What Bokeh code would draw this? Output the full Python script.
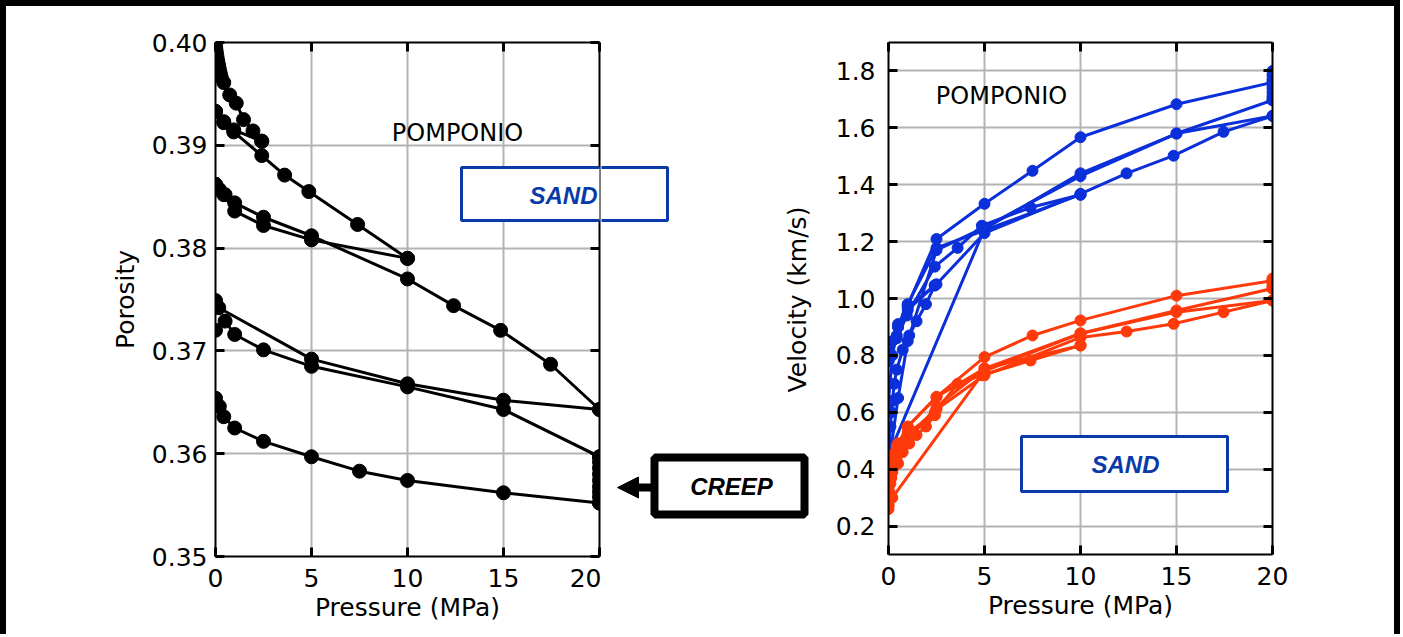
from bokeh.plotting import figure
from bokeh.layouts import row
from bokeh.models import (Range1d, LinearAxis, FixedTicker, NumeralTickFormatter,
                          BoxAnnotation, Label, Arrow, NormalHead,
                          CustomJSTickFormatter, CustomLabelingPolicy)
from bokeh.embed import file_html
from bokeh.resources import INLINE

# ---------------- data : porosity (left panel) ----------------
por_load1_p = [0, 0.02, 0.05, 0.08, 0.12, 0.16, 0.2, 0.25, 0.3, 0.43, 0.74, 1.08, 1.46, 1.95, 2.41]
por_load1 = [0.3998, 0.3994, 0.3990, 0.3986, 0.3982, 0.3978, 0.3974, 0.3970, 0.3966, 0.3961,
             0.3949, 0.3941, 0.3925, 0.3914, 0.3904]
por_unload1_p = [2.41, 0.95, 0.43, 0]
por_unload1 = [0.3904, 0.3915, 0.3923, 0.3933]
por_reload1_p = [0, 0.43, 0.95, 2.41, 3.6, 4.86, 7.4, 10]
por_reload1 = [0.3933, 0.3922, 0.3913, 0.3890, 0.3871, 0.3855, 0.3823, 0.3790]
por_unload2_p = [10, 5, 2.5, 1, 0.43, 0]
por_unload2 = [0.3790, 0.3808, 0.3822, 0.3836, 0.3852, 0.3862]
por_reload2_p = [0, 0.2, 0.5, 1, 2.5, 5, 10, 12.4, 14.85, 17.45, 20]
por_reload2 = [0.3862, 0.3857, 0.3852, 0.3844, 0.3830, 0.3812, 0.3770, 0.3744, 0.3720, 0.3687, 0.3643]
por_unload3_p = [20, 15, 10, 5, 0.17, 0]
por_unload3 = [0.3643, 0.3652, 0.3668, 0.3692, 0.3742, 0.3749]
por_reload3_p = [0, 0.5, 1, 2.5, 5, 10, 15, 20]
por_reload3 = [0.3720, 0.3729, 0.3716, 0.3701, 0.3685, 0.3665, 0.3643, 0.3597]
por_creep_p = [20, 20, 20, 20, 20, 20, 20, 20, 20]
por_creep = [0.3597, 0.3592, 0.3586, 0.3580, 0.3574, 0.3568, 0.3563, 0.3558, 0.3552]
por_unload4_p = [20, 15, 10, 7.5, 5, 2.5, 1, 0.43, 0.2, 0]
por_unload4 = [0.3552, 0.3562, 0.3574, 0.3583, 0.3597, 0.3612, 0.3625, 0.3636, 0.3646, 0.3654]

# ---------------- data : velocities (right panel) ----------------
vp_load1_p = [0, 0.02, 0.05, 0.1, 0.15, 0.2, 0.3, 0.43, 0.74, 1.08, 1.46, 1.95, 2.41]
vp_load1 = [0.34, 0.42, 0.48, 0.55, 0.60, 0.64, 0.70, 0.75, 0.82, 0.87, 0.92, 0.98, 1.046]
vp_unload1_p = [2.41, 1.0, 0.43, 0]
vp_unload1 = [1.046, 0.96, 0.87, 0.78]
vp_reload1_p = [0, 0.43, 0.95, 2.41, 3.6, 4.86, 7.4, 10]
vp_reload1 = [0.78, 0.86, 0.94, 1.112, 1.178, 1.256, 1.32, 1.365]
vp_unload2_p = [10, 5, 2.5, 1, 0.5, 0]
vp_unload2 = [1.365, 1.24, 1.178, 0.98, 0.90, 0.80]
vp_reload2_p = [0, 0.2, 0.5, 1, 2.5, 5, 10, 12.4, 14.85, 17.45, 20]
vp_reload2 = [0.80, 0.85, 0.91, 0.97, 1.05, 1.23, 1.368, 1.44, 1.502, 1.586, 1.642]
vp_unload3_p = [20, 15, 10, 5, 0.2, 0]
vp_unload3 = [1.642, 1.58, 1.44, 1.245, 0.48, 0.44]
vp_reload3_p = [0, 0.5, 1, 2.5, 5, 10, 15, 20]
vp_reload3 = [0.41, 0.65, 0.85, 1.17, 1.25, 1.43, 1.58, 1.697]
vp_creep_p = [20, 20, 20, 20, 20, 20, 20, 20]
vp_creep = [1.697, 1.71, 1.725, 1.74, 1.755, 1.77, 1.785, 1.80]
vp_unload4_p = [20, 15, 10, 7.5, 5, 2.5, 1, 0.5, 0.2, 0]
vp_unload4 = [1.76, 1.683, 1.567, 1.449, 1.333, 1.209, 0.976, 0.90, 0.80, 0.64]

vs_load1_p = [0, 0.02, 0.05, 0.1, 0.15, 0.2, 0.3, 0.43, 0.74, 1.08, 1.46, 1.95, 2.41]
vs_load1 = [0.26, 0.29, 0.32, 0.35, 0.37, 0.39, 0.41, 0.43, 0.46, 0.49, 0.52, 0.55, 0.59]
vs_unload1_p = [2.41, 1.0, 0.43, 0]
vs_unload1 = [0.59, 0.53, 0.48, 0.42]
vs_reload1_p = [0, 0.43, 0.95, 2.41, 3.6, 4.86, 7.4, 10]
vs_reload1 = [0.42, 0.47, 0.51, 0.60, 0.70, 0.73, 0.782, 0.835]
vs_unload2_p = [10, 5, 2.5, 1, 0.5, 0]
vs_unload2 = [0.835, 0.754, 0.654, 0.549, 0.49, 0.43]
vs_reload2_p = [0, 0.2, 0.5, 1, 2.5, 5, 10, 12.4, 14.85, 17.45, 20]
vs_reload2 = [0.43, 0.45, 0.48, 0.52, 0.61, 0.73, 0.863, 0.884, 0.911, 0.952, 0.993]
vs_unload3_p = [20, 15, 10, 5, 0.2, 0]
vs_unload3 = [0.993, 0.952, 0.877, 0.745, 0.30, 0.274]
vs_reload3_p = [0, 0.5, 1, 2.5, 5, 10, 15, 20]
vs_reload3 = [0.27, 0.42, 0.50, 0.62, 0.754, 0.877, 0.958, 1.035]
vs_creep_p = [20, 20, 20, 20, 20]
vs_creep = [1.035, 1.045, 1.055, 1.063, 1.07]
vs_unload4_p = [20, 15, 10, 7.5, 5, 2.5, 1, 0.5, 0.2, 0]
vs_unload4 = [1.063, 1.01, 0.923, 0.87, 0.794, 0.654, 0.55, 0.49, 0.44, 0.40]

# ---------------- ticks / labels ----------------
x_ticks = [0, 5, 10, 15, 20]
por_ticks = [0.35, 0.36, 0.37, 0.38, 0.39, 0.40]
vel_ticks = [0.2, 0.4, 0.6, 0.8, 1.0, 1.2, 1.4, 1.6, 1.8]
x_label = "Pressure (MPa)"
por_label = "Porosity"
vel_label = "Velocity (km/s)"
site_name = "POMPONIO"
rock_name = "SAND"
creep_name = "CREEP"

FONT = "DejaVu Sans"
BOLD_FONT = "Liberation Sans"
BLUE = "#0b2fd9"
RED = "#ff3a0a"
BOX_BLUE = "#0a3aa8"
GRID = "#b3b3b3"

left_segments = [
    (por_load1_p, por_load1), (por_unload1_p, por_unload1), (por_reload1_p, por_reload1),
    (por_unload2_p, por_unload2), (por_reload2_p, por_reload2), (por_unload3_p, por_unload3),
    (por_reload3_p, por_reload3), (por_creep_p, por_creep), (por_unload4_p, por_unload4),
]
vp_segments = [
    (vp_load1_p, vp_load1), (vp_unload1_p, vp_unload1), (vp_reload1_p, vp_reload1),
    (vp_unload2_p, vp_unload2), (vp_reload2_p, vp_reload2), (vp_unload3_p, vp_unload3),
    (vp_reload3_p, vp_reload3), (vp_creep_p, vp_creep), (vp_unload4_p, vp_unload4),
]
vs_segments = [
    (vs_load1_p, vs_load1), (vs_unload1_p, vs_unload1), (vs_reload1_p, vs_reload1),
    (vs_unload2_p, vs_unload2), (vs_reload2_p, vs_reload2), (vs_unload3_p, vs_unload3),
    (vs_reload3_p, vs_reload3), (vs_creep_p, vs_creep), (vs_unload4_p, vs_unload4),
]

# ---------------- layout geometry (page pixels, canvas starts at 6,6) ----------------
H = 628
W_LEFT, W_MID, W_RIGHT = 595, 211, 582
X0_MID = 6 + W_LEFT
TOP_L, FRAME_L = 35, 514          # left frame: page y 41 .. 555


def style_axis(ax, standoff=8):
    ax.axis_line_width = 2
    ax.axis_line_color = "black"
    ax.major_tick_in = 9
    ax.major_tick_out = 0
    ax.major_tick_line_width = 3
    ax.major_tick_line_color = "black"
    ax.minor_tick_line_color = None
    ax.major_label_text_font = FONT
    ax.major_label_text_color = "black"
    ax.major_label_text_font_size = "25px"
    ax.major_label_standoff = standoff
    ax.axis_label_text_font = FONT
    ax.axis_label_text_font_size = "25px"
    ax.axis_label_text_font_style = "normal"
    ax.axis_label_text_color = "black"


def tick_only_axis(ticks):
    ax = LinearAxis(ticker=FixedTicker(ticks=ticks),
                    formatter=CustomJSTickFormatter(code="return ''"),
                    major_label_policy=CustomLabelingPolicy(
                        code="for (const i of indices) indices.unset(i)"))
    style_axis(ax, standoff=0)
    ax.major_label_text_font_size = "10px"
    return ax


def make_fig(y_rng, y_ticks, y_fmt, width, mb_left, mb_top, frame_h, y_standoff):
    p = figure(x_range=Range1d(0, 20), y_range=Range1d(*y_rng),
               frame_width=384, frame_height=frame_h,
               min_border_left=mb_left, min_border_right=width - mb_left - 384,
               min_border_top=mb_top, min_border_bottom=H - mb_top - frame_h,
               output_backend="svg", toolbar_location=None,
               background_fill_color="white", border_fill_color="white")
    p.outline_line_color = None
    p.xaxis.ticker = FixedTicker(ticks=x_ticks)
    p.yaxis.ticker = FixedTicker(ticks=y_ticks)
    p.yaxis.formatter = NumeralTickFormatter(format=y_fmt)
    style_axis(p.xaxis[0], standoff=12)
    style_axis(p.yaxis[0], standoff=y_standoff)
    p.xaxis.axis_label = x_label
    p.xaxis.axis_label_standoff = 3
    p.add_layout(tick_only_axis(x_ticks), "above")
    p.add_layout(tick_only_axis(y_ticks), "right")
    p.xgrid.ticker = FixedTicker(ticks=x_ticks)
    p.ygrid.ticker = FixedTicker(ticks=y_ticks)
    for g in (p.xgrid[0], p.ygrid[0]):
        g.grid_line_color = GRID
        g.grid_line_width = 2
    return p


# page-pixel -> data helpers for placing annotations
def lx(px):
    return (px - 215) * 20 / 384


def ly(py):
    return 0.40 - (py - 41) * 0.05 / 514


def rx(px):
    return (px - 888) * 20 / 384


def ry(py):
    return 1.9 - (py - 42) * 1.8 / 512


# ---------------- left panel ----------------
p1 = make_fig((0.35, 0.40), por_ticks, "0.00", W_LEFT, 209, TOP_L, FRAME_L, 8)
p1.yaxis[0].axis_label = por_label
p1.yaxis[0].axis_label_standoff = 9
for xs, ys in left_segments:
    p1.line(xs, ys, line_color="black", line_width=3)
    p1.scatter(xs, ys, size=14, fill_color="black", line_color="black")

p1.add_layout(Label(x=lx(457), y=ly(131), text=site_name, text_font=FONT, text_font_size="24px",
                    text_align="center", text_baseline="middle", text_color="black"))
p1.add_layout(BoxAnnotation(left=lx(461), right=lx(667), top=ly(166), bottom=ly(219),
                            fill_color="white", fill_alpha=1, line_color=BOX_BLUE, line_width=3,
                            line_alpha=1))
p1.add_layout(Label(x=lx(563), y=ly(194), text=rock_name, text_font=BOLD_FONT, text_font_size="24px",
                    text_font_style="bold italic", text_align="center", text_baseline="middle",
                    text_color=BOX_BLUE))

# ---------------- middle strip (annotations between the panels) ----------------
# its frame is aligned with the left frame (page y 41..555); ranges are page pixels
pm = figure(x_range=Range1d(X0_MID, X0_MID + W_MID), y_range=Range1d(6 + TOP_L + FRAME_L, 6 + TOP_L),
            frame_width=W_MID, frame_height=FRAME_L,
            min_border_left=0, min_border_right=0,
            min_border_top=TOP_L, min_border_bottom=H - TOP_L - FRAME_L,
            x_axis_location=None, y_axis_location=None,
            output_backend="svg", toolbar_location=None,
            background_fill_color="white", border_fill_color="white")
pm.grid.grid_line_color = None
pm.outline_line_color = None
# continuation of the left SAND box beyond the left frame
pm.add_layout(BoxAnnotation(left=461, right=667, top=166, bottom=219,
                            fill_color="white", fill_alpha=1, line_color=BOX_BLUE, line_width=3,
                            line_alpha=1))
# CREEP box + arrow
pm.add_layout(BoxAnnotation(left=654, right=804, top=456, bottom=513,
                            fill_color="white", fill_alpha=1, line_color="black", line_width=8,
                            line_alpha=1))
pm.add_layout(Label(x=731, y=485, text=creep_name, text_font=BOLD_FONT, text_font_size="24px",
                    text_font_style="bold italic", text_align="center", text_baseline="middle",
                    text_color="black"))
pm.add_layout(Arrow(x_start=651, y_start=486, x_end=617, y_end=486,
                    line_color="black", line_width=8,
                    end=NormalHead(size=21, fill_color="black", line_color="black", line_width=1)))
# y-axis title of the right panel
pm.add_layout(Label(x=797, y=298, text=vel_label, text_font=FONT, text_font_size="25px",
                    angle=1.5707963, text_align="center", text_baseline="middle", text_color="black"))

# ---------------- right panel ----------------
p2 = make_fig((0.1, 1.9), vel_ticks, "0.0", W_RIGHT, 888 - (X0_MID + W_MID), 36, 512, 13)
for xs, ys in vp_segments:
    p2.line(xs, ys, line_color=BLUE, line_width=3)
    p2.scatter(xs, ys, size=11, fill_color=BLUE, line_color=BLUE)
for xs, ys in vs_segments:
    p2.line(xs, ys, line_color=RED, line_width=3)
    p2.scatter(xs, ys, size=11, fill_color=RED, line_color=RED)

p2.add_layout(Label(x=rx(1001), y=ry(95), text=site_name, text_font=FONT, text_font_size="24px",
                    text_align="center", text_baseline="middle", text_color="black"))
p2.add_layout(BoxAnnotation(left=rx(1021), right=rx(1227), top=ry(436), bottom=ry(491),
                            fill_color="white", fill_alpha=1, line_color=BOX_BLUE, line_width=3,
                            line_alpha=1))
p2.add_layout(Label(x=rx(1125), y=ry(464), text=rock_name, text_font=BOLD_FONT, text_font_size="24px",
                    text_font_style="bold italic", text_align="center", text_baseline="middle",
                    text_color=BOX_BLUE))

layout = row(p1, pm, p2, styles={"border-top": "6px solid black", "border-left": "6px solid black",
                                 "border-right": "6px solid black"})

open("out.html", "w").write(file_html(layout, INLINE))
